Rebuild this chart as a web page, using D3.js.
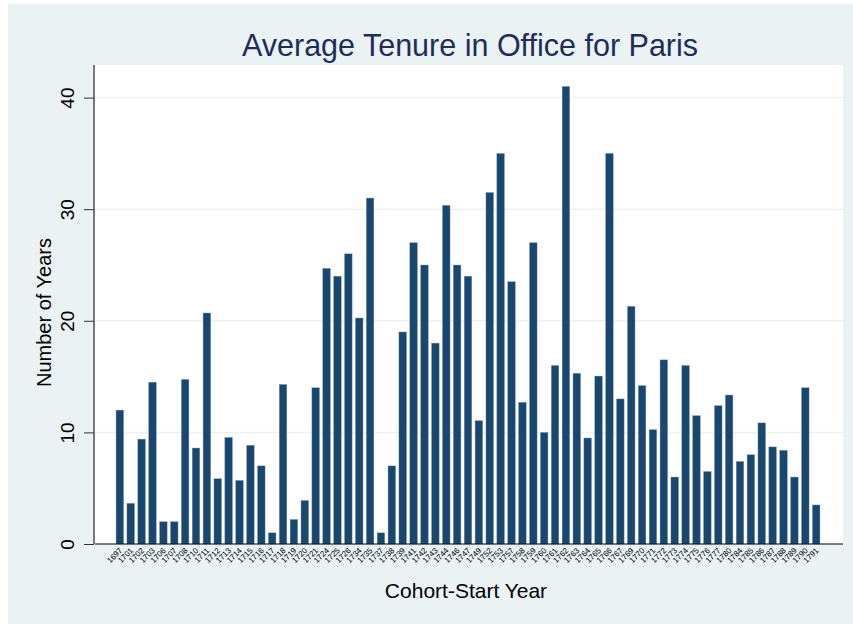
<!DOCTYPE html>
<html>
<head>
<meta charset="utf-8">
<script src="https://cdn.jsdelivr.net/npm/d3@7"></script>
<style>
  body { margin: 0; background: #fff; }
  text { font-family: "Liberation Sans", Arial, sans-serif; }
</style>
</head>
<body>
<div id="chart"></div>
<script>
// cohort start years and average tenure (years)
const years = ['1697','1701','1702','1703','1706','1707','1708','1710','1711','1712',
  '1713','1714','1715','1716','1717','1718','1719','1720','1721','1724',
  '1725','1726','1734','1735','1737','1738','1739','1741','1742','1743',
  '1744','1746','1747','1749','1752','1753','1757','1758','1759','1760',
  '1761','1762','1763','1764','1765','1766','1767','1769','1770','1771',
  '1772','1773','1774','1775','1776','1777','1780','1784','1785','1786',
  '1787','1788','1789','1790','1791']
const tenure = [12.0, 3.65, 9.4, 14.5, 2.0, 2.0, 14.75, 8.6, 20.7, 5.85,
  9.55, 5.7, 8.85, 7.0, 1.0, 14.3, 2.2, 3.9, 14.0, 24.7,
  24.0, 26.0, 20.25, 31.0, 1.0, 7.0, 19.0, 27.0, 25.0, 18.0,
  30.35, 25.0, 24.0, 11.05, 31.5, 35.0, 23.5, 12.7, 27.0, 10.0,
  16.0, 41.0, 15.3, 9.5, 15.05, 35.0, 13.0, 21.3, 14.2, 10.25,
  16.5, 6.0, 16.0, 11.5, 6.5, 12.4, 13.35, 7.4, 8.0, 10.85,
  8.7, 8.4, 6.0, 14.0, 3.5]
const yTicks = [0, 10, 20, 30, 40]

const width = 853, height = 624
const plot = {left: 95, right: 843, top: 65, bottom: 544}

const svg = d3.select('#chart').append('svg')
  .attr('width', width)
  .attr('height', height)

svg.append('rect')
  .attr('x', 8).attr('y', 4)
  .attr('width', width - 8).attr('height', height - 4)
  .attr('fill', '#eaf2f3')

svg.append('rect')
  .attr('x', plot.left).attr('y', plot.top)
  .attr('width', plot.right - plot.left).attr('height', plot.bottom - plot.top)
  .attr('fill', '#fff')

const x = d3.scaleBand()
  .domain(years)
  .range([114.4, 821.6])
  .paddingInner(0.3)
  .paddingOuter(0.15)

const y = d3.scaleLinear()
  .domain([0, 40])
  .range([plot.bottom, 97.6])

// grid
svg.append('g')
  .selectAll('line')
  .data(yTicks.filter(d => d > 0))
  .join('line')
  .attr('x1', plot.left).attr('x2', plot.right)
  .attr('y1', d => y(d)).attr('y2', d => y(d))
  .attr('stroke', '#eaf2f3')
  .attr('stroke-width', 1.5)

// bars
svg.append('g')
  .selectAll('rect')
  .data(tenure)
  .join('rect')
  .attr('x', (d, i) => x(years[i]))
  .attr('width', x.bandwidth())
  .attr('y', d => y(d))
  .attr('height', d => y(0) - y(d))
  .attr('fill', '#1a476f')
  .attr('stroke', '#8aa0b8')
  .attr('stroke-width', 0.4)

// y axis
const yAxis = svg.append('g')
  .attr('transform', `translate(${plot.left - 1},0)`)
  .call(d3.axisLeft(y).tickValues(yTicks).tickSize(10))
yAxis.select('.domain').attr('d', `M0,${plot.top}V${plot.bottom}`).attr('stroke', '#000')
yAxis.selectAll('.tick line').attr('stroke', '#333')
yAxis.selectAll('.tick text')
  .attr('font-size', 19)
  .attr('fill', '#000')
  .attr('text-anchor', 'middle')
  .attr('x', null)
  .attr('y', 0)
  .attr('dy', '0.35em')
  .attr('transform', 'translate(-27,0) rotate(-90)')

// x axis baseline and labels
svg.append('line')
  .attr('x1', plot.left).attr('x2', plot.right)
  .attr('y1', plot.bottom).attr('y2', plot.bottom)
  .attr('stroke', '#000')
  .attr('stroke-width', 1.2)

svg.append('g')
  .selectAll('text')
  .data(years)
  .join('text')
  .attr('transform', d => `translate(${x(d) + x.bandwidth() / 2 + 3},${plot.bottom + 7}) rotate(-45)`)
  .attr('text-anchor', 'end')
  .attr('font-size', 8)
  .attr('fill', '#000')
  .text(d => d)

// titles
svg.append('text')
  .attr('x', 470).attr('y', 56)
  .attr('text-anchor', 'middle')
  .attr('font-size', 30.5)
  .attr('fill', '#1e2d5a')
  .text('Average Tenure in Office for Paris')

svg.append('text')
  .attr('x', 466).attr('y', 598)
  .attr('text-anchor', 'middle')
  .attr('font-size', 21)
  .attr('fill', '#000')
  .text('Cohort-Start Year')

svg.append('text')
  .attr('transform', `translate(51,${(plot.top + plot.bottom) / 2 + 8}) rotate(-90)`)
  .attr('text-anchor', 'middle')
  .attr('font-size', 20)
  .attr('fill', '#000')
  .text('Number of Years')
</script>
</body>
</html>
